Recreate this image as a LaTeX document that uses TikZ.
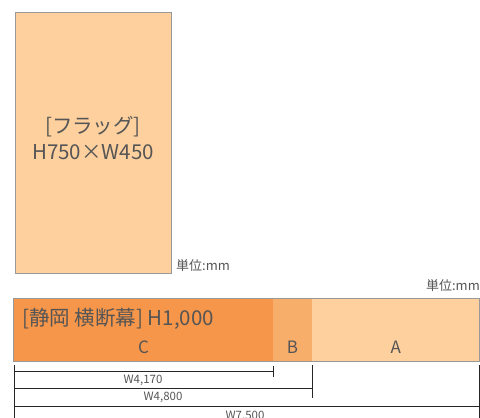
\documentclass[tikz,border=0pt]{standalone}
\usepackage{fontspec}
\setmainfont{Noto Sans CJK JP}
\definecolor{txtgray}{HTML}{555555}
\definecolor{edgegray}{HTML}{999999}
\definecolor{paleorange}{HTML}{FDD09E}
\definecolor{midorange}{HTML}{F8AE6B}
\definecolor{deeporange}{HTML}{F5964A}
\begin{document}
\begin{tikzpicture}
		[x=1pt,y=-1pt,
		part/.style={rectangle,inner sep=0pt,minimum height=62pt},
		label/.style={text=txtgray,inner sep=0pt,font=\fontsize{17}{20}\selectfont},
		bigtext/.style={text=txtgray,inner sep=0pt,font=\fontsize{20.5}{24}\selectfont},
		unit/.style={text=txtgray,inner sep=0pt,font=\fontsize{13}{15}\selectfont},
		dimtext/.style={text=txtgray,inner sep=0pt,font=\fontsize{11.5}{13}\selectfont},
		dimline/.style={-,black!85,semithick}]
		\useasboundingbox (0,0) rectangle (480,418);
		% flag
		\node at (93,142.5) (flag) [rectangle,draw=edgegray,thick,fill=paleorange,
minimum width=156pt,minimum height=261pt] {};
		\node at (93,127) (flagname) [bigtext] {[フラッグ]};
		\node at (93,152) (flagsize) [bigtext] {H750×W450};
		\node at (176,266) (unit1) [unit,anchor=west] {単位:mm};
		% banner
		\node at (143.5,330) (C) [part,fill=deeporange,minimum width=259pt] {};
		\node at (292.5,330) (B) [part,fill=midorange,minimum width=39pt] {};
		\node at (395.75,330) (A) [part,fill=paleorange,minimum width=167.5pt] {};
		\draw[edgegray,thick] (C.north west) rectangle (A.south east);
		\node at (22,318.5) (bannername) [bigtext,anchor=west] {[静岡 横断幕] H1,000};
		\node at (143.5,347) (Clabel) [label] {C};
		\node at (292.5,347) (Blabel) [label] {B};
		\node at (395.75,347) (Alabel) [label] {A};
		\node at (480,286) (unit2) [unit,anchor=east] {単位:mm};
		% dimensions
		\coordinate (l0) at (14.5,365);
		\coordinate (l1) at (14.5,420);
		\coordinate (c0) at (273.5,366);
		\coordinate (c1) at (273.5,377);
		\coordinate (b0) at (312.5,365);
		\coordinate (b1) at (312.5,398);
		\coordinate (a0) at (479,365);
		\coordinate (a1) at (479,420);
		\draw[dimline] (l0) -- (l1);
		\draw[dimline] (c0) -- (c1);
		\draw[dimline] (b0) -- (b1);
		\draw[dimline] (a0) -- (a1);
		\draw[dimline] (l0 |- 0,371) -- (c0 |- 0,371);
		\draw[dimline] (l0 |- 0,388) -- (b0 |- 0,388);
		\draw[dimline] (l0 |- 0,406) -- (a0 |- 0,406);
		\node at (143,380.5) (w1) [dimtext] {W4,170};
		\node at (163,397.5) (w2) [dimtext] {W4,800};
		\node at (245,416) (w3) [dimtext] {W7,500};
	\end{tikzpicture}
\end{document}
